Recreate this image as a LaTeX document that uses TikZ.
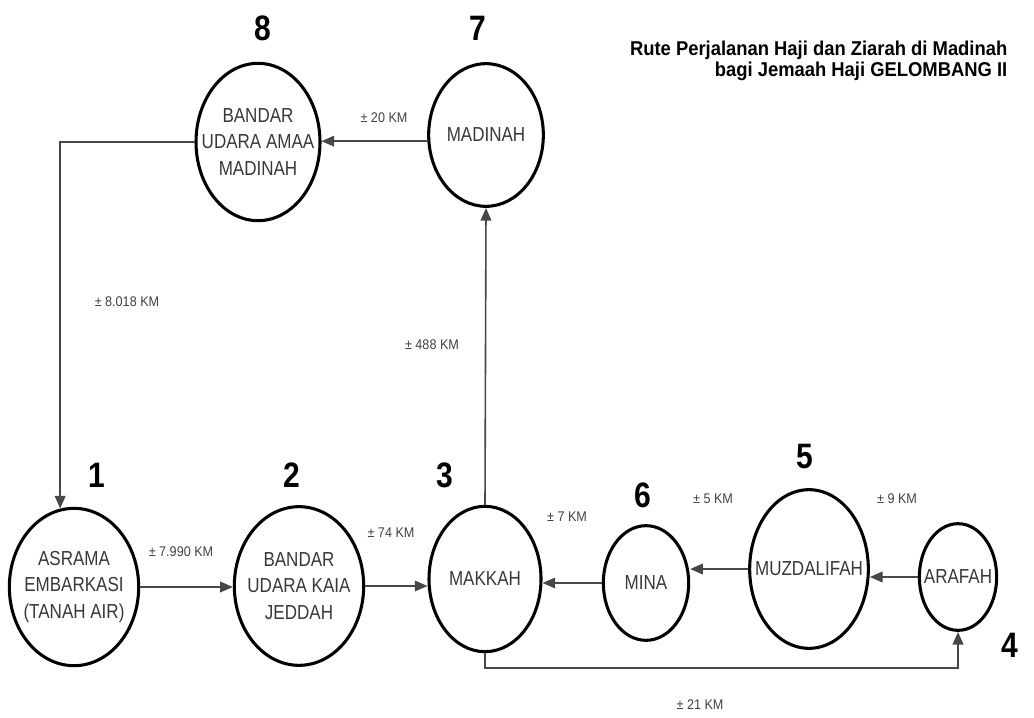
\documentclass[tikz,border=0pt]{standalone}
\usepackage{fontspec}
\usetikzlibrary{arrows.meta,shapes.geometric}
\newfontfamily\placefont[FakeStretch=0.84]{Liberation Sans}
\newfontfamily\titlefont[FakeStretch=0.92]{Liberation Sans}
\newfontfamily\numfont[FakeStretch=0.85]{Liberation Sans}
\newfontfamily\kmfont[FakeStretch=0.9]{Liberation Sans}
\begin{document}
\begin{tikzpicture}[x=0.75pt,y=-0.75pt,
		place/.style={draw,ellipse,line width=2.3pt,inner sep=0pt},
		placename/.style={font=\placefont\fontsize{15.2}{19.8}\selectfont,text=black!78,align=center},
		num/.style={font=\numfont\bfseries\fontsize{26.5}{26.5}\selectfont},
		km/.style={font=\kmfont\fontsize{10.5}{12}\selectfont,text=black!75},
		route/.style={-{Triangle[length=9.5pt,width=8pt]},line width=1.2pt,draw=black!72}]
		\useasboundingbox (0,0) rectangle (1034,717);
		\node[place,minimum width=97pt,minimum height=118pt,label={[placename]center:{ASRAMA\\EMBARKASI\\(TANAH AIR)}}] (asrama) at (74,587) {};
		\node[place,minimum width=97pt,minimum height=119pt,label={[placename]center:{BANDAR\\UDARA KAIA\\JEDDAH}}] (jeddah) at (299,586) {};
		\node[place,minimum width=84pt,minimum height=109pt,label={[placename]center:MAKKAH}] (makkah) at (485,579) {};
		\node[place,minimum width=58pt,minimum height=80pt,label={[placename]center:ARAFAH}] (arafah) at (958,577) {};
		\node[place,minimum width=89pt,minimum height=119pt,label={[placename]center:MUZDALIFAH}] (muzdalifah) at (809,569) {};
		\node[place,minimum width=64pt,minimum height=86pt,label={[placename]center:MINA}] (mina) at (646,583) {};
		\node[place,minimum width=86pt,minimum height=107pt,label={[placename]center:MADINAH}] (madinah) at (486,135) {};
		\node[place,minimum width=93pt,minimum height=118pt,label={[placename]center:{BANDAR\\UDARA AMAA\\MADINAH}}] (bandara) at (258,142) {};
		\node[num] (n1) at (97,475) {1};
		\node[num] (n2) at (292,475) {2};
		\node[num] (n3) at (445,475) {3};
		\node[num] (n4) at (1010,645) {4};
		\node[num] (n5) at (805,457) {5};
		\node[num] (n6) at (643,495) {6};
		\node[num] (n7) at (478,28) {7};
		\node[num] (n8) at (263,28) {8};
		\node[font=\titlefont\bfseries\fontsize{15}{16}\selectfont,align=right,anchor=north east] (title) at (1012,36) {Rute Perjalanan Haji dan Ziarah di Madinah\\bagi Jemaah Haji GELOMBANG II};
		\draw[route] (asrama.east) -- (asrama.east -| jeddah.west);
		\draw[route] (jeddah.east) -- (jeddah.east -| makkah.west);
		\draw[route] (makkah.south) -- ++(0,15) -| (arafah.south);
		\draw[route] (arafah.west) -- (arafah.west -| muzdalifah.east);
		\draw[route] (muzdalifah.west) -- (muzdalifah.west -| mina.east);
		\draw[route] (mina.west) -- (mina.west -| makkah.east);
		\draw[route] (makkah.north) -- (madinah.south);
		\draw[route] (madinah.186) -- (madinah.186 -| bandara.east);
		\draw[route] (bandara.west) -| (asrama.100);
		\node[km] (k1) at (181,552) {± 7.990 KM};
		\node[km] (k2) at (391,533) {± 74 KM};
		\node[km] (k3) at (700,705) {± 21 KM};
		\node[km] (k4) at (897,499) {± 9 KM};
		\node[km] (k5) at (713,499) {± 5 KM};
		\node[km] (k6) at (567,517) {± 7 KM};
		\node[km] (k7) at (432,345) {± 488 KM};
		\node[km] (k8) at (384,118) {± 20 KM};
		\node[km] (k9) at (127,302) {± 8.018 KM};
		\end{tikzpicture}
\end{document}
